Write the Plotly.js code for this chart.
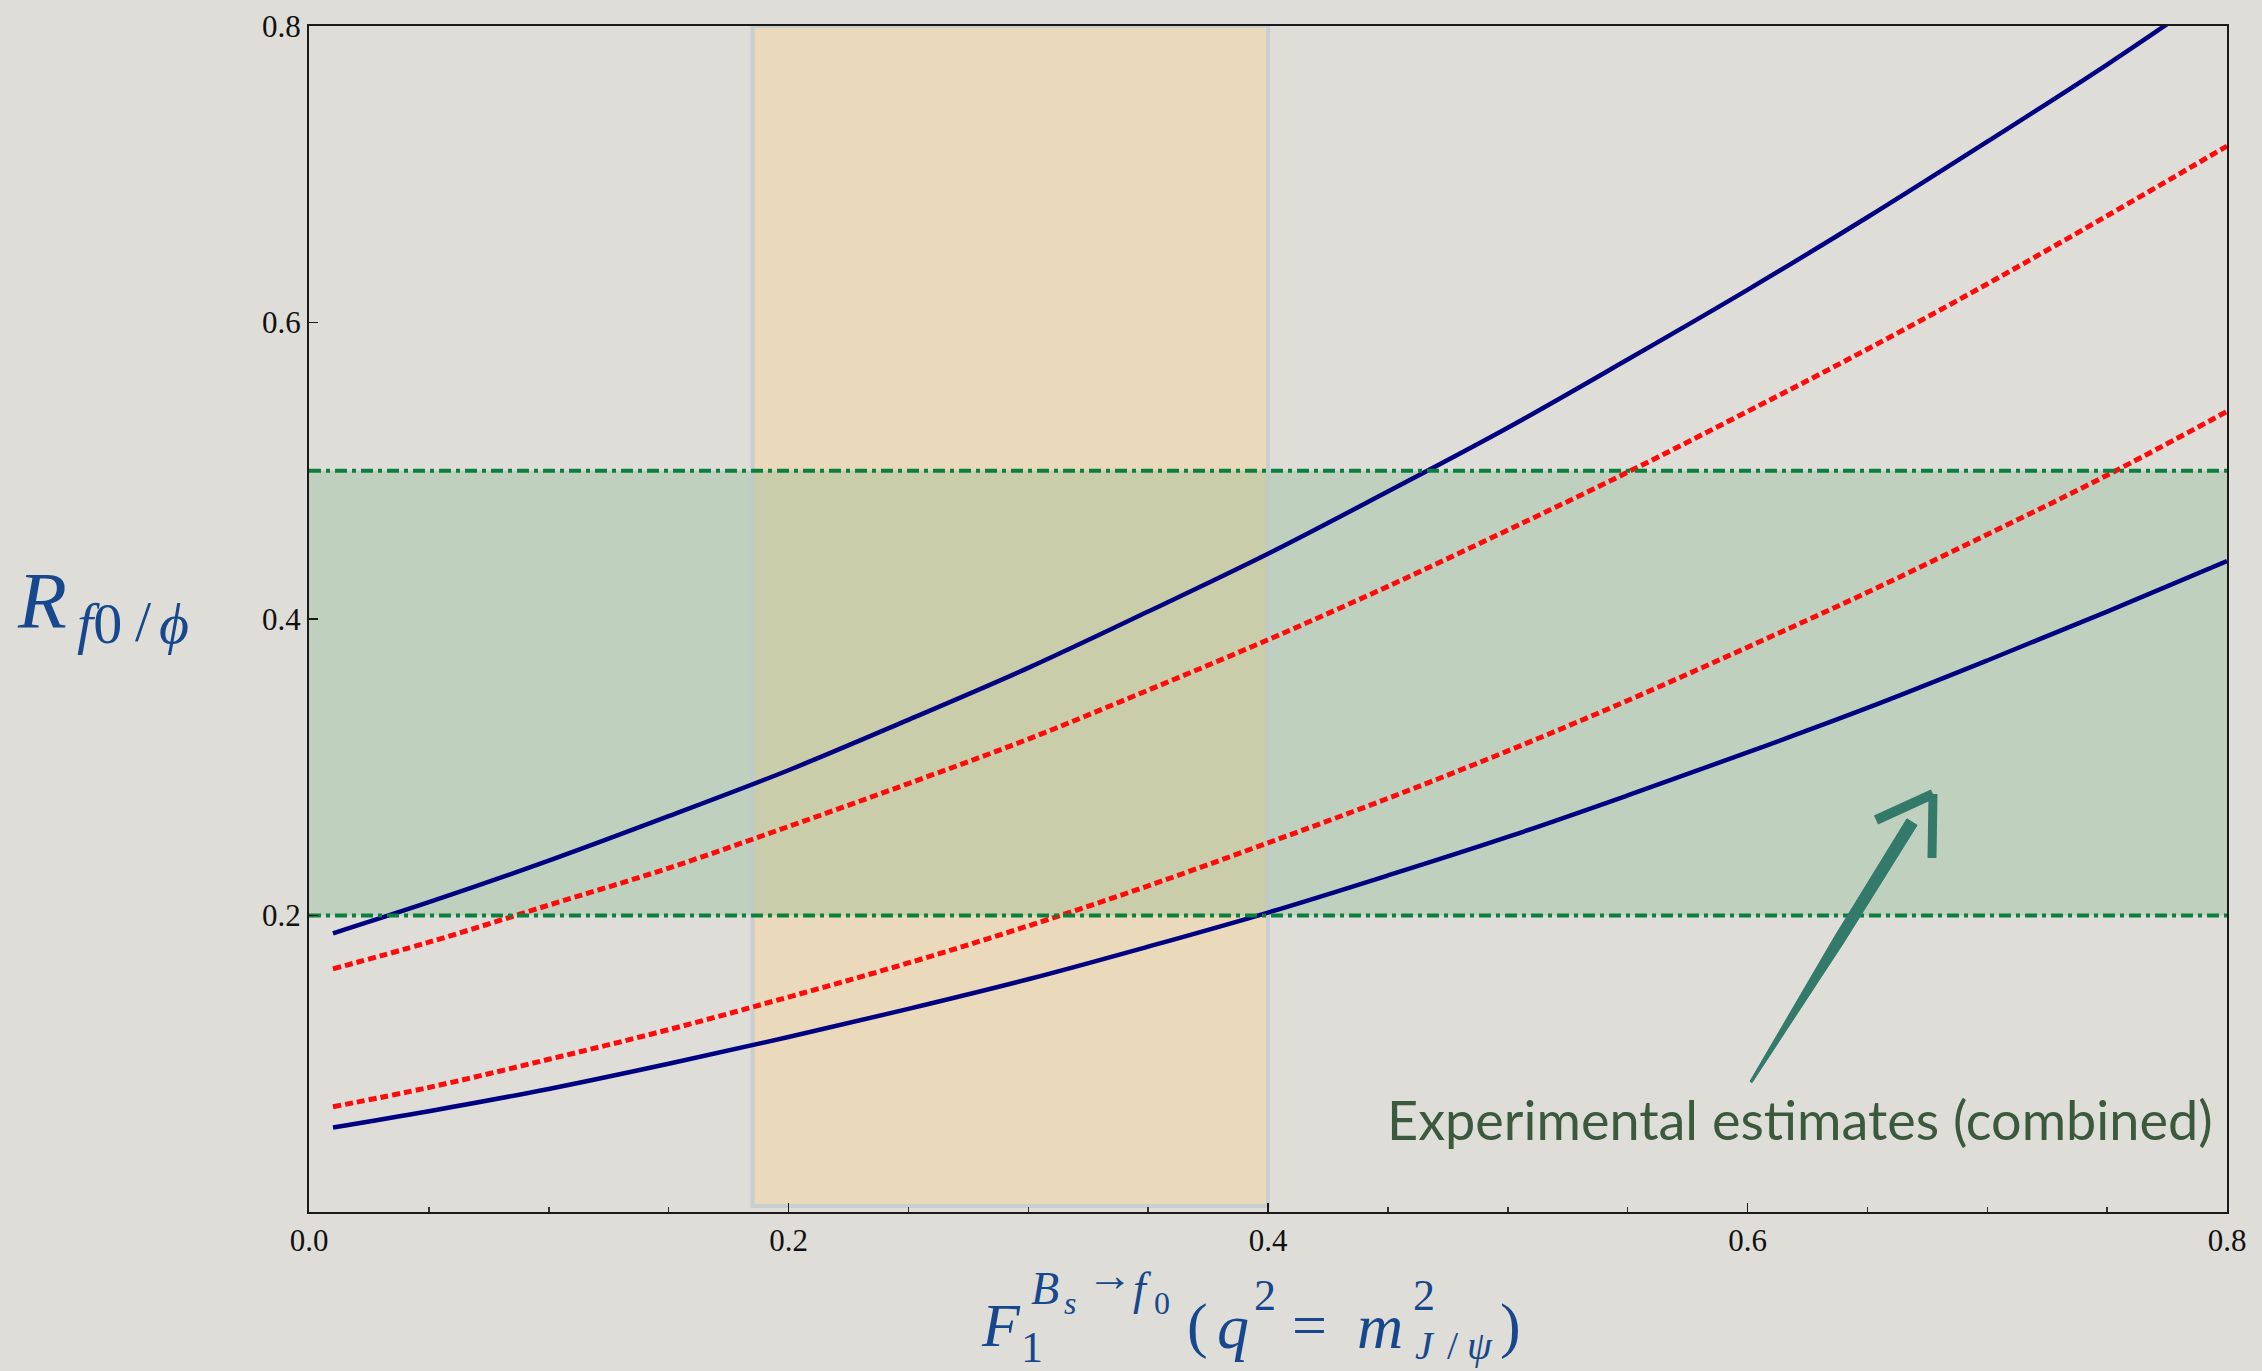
<!DOCTYPE html>
<html>
<head>
<meta charset="utf-8">
<script src="https://cdn.plot.ly/plotly-3.0.1.min.js"></script>
<style>
  html, body { margin: 0; padding: 0; background: #dfddd8; }
  #chart { width: 2262px; height: 1371px; }
</style>
</head>
<body>
<div id="chart"></div>
<script>
// ---- data ----
const formFactor = [0.01, 0.05, 0.10, 0.15, 0.20, 0.25, 0.30, 0.35, 0.40, 0.45, 0.50, 0.55, 0.60, 0.65, 0.70, 0.75, 0.80];
const upperSolid  = [0.188, 0.209, 0.237, 0.267, 0.298, 0.332, 0.367, 0.405, 0.444, 0.486, 0.529, 0.575, 0.622, 0.671, 0.722, 0.774, 0.829];
const upperDotted = [0.164, 0.182, 0.207, 0.232, 0.260, 0.289, 0.319, 0.352, 0.386, 0.422, 0.460, 0.499, 0.540, 0.582, 0.626, 0.672, 0.719];
const lowerDotted = [0.071, 0.084, 0.103, 0.123, 0.145, 0.168, 0.193, 0.220, 0.249, 0.279, 0.311, 0.345, 0.381, 0.418, 0.457, 0.497, 0.540];
const lowerSolid  = [0.057, 0.068, 0.083, 0.100, 0.118, 0.137, 0.157, 0.179, 0.202, 0.227, 0.253, 0.281, 0.310, 0.340, 0.372, 0.405, 0.439];

const expBand = [0.2, 0.5];          // experimental estimates (combined), R range
const ffBand  = [0.185, 0.4];        // form factor band, F range
const xRange  = [0, 0.8];
const yRange  = [0, 0.8];
const xTickVals = [0.0, 0.2, 0.4, 0.6, 0.8];
const xTickText = ['0.0', '0.2', '0.4', '0.6', '0.8'];
const yTickVals = [0.2, 0.4, 0.6, 0.8];
const yTickText = ['0.2', '0.4', '0.6', '0.8'];
const annotationText = 'Experimental estimates (combined)';

// ---- layout geometry ----
const W = 2262, H = 1371;
const M = { l: 309, r: 35, t: 26, b: 159 };
const plotW = W - M.l - M.r, plotH = H - M.t - M.b;
const px2paperX = px => (px - M.l) / plotW;
const px2paperY = py => (H - M.b - py) / plotH;
const px2x = px => xRange[0] + (px - M.l) / plotW * (xRange[1] - xRange[0]);
const px2y = py => yRange[0] + (H - M.b - py) / plotH * (yRange[1] - yRange[0]);

const BLUE_TXT = '#17488e';
const SERIF = 'Liberation Serif, Times New Roman, serif';

const traces = [
  { x: formFactor, y: upperSolid, mode: 'lines', line: { color: '#000080', width: 4.5, shape: 'spline' }, hoverinfo: 'skip' },
  { x: formFactor, y: lowerSolid, mode: 'lines', line: { color: '#000080', width: 4.5, shape: 'spline' }, hoverinfo: 'skip' },
  { x: formFactor, y: upperDotted, mode: 'lines', line: { color: '#ff0a0a', width: 5, dash: '8px,4px', shape: 'spline' }, hoverinfo: 'skip' },
  { x: formFactor, y: lowerDotted, mode: 'lines', line: { color: '#ff0a0a', width: 5, dash: '8px,4px', shape: 'spline' }, hoverinfo: 'skip' },
  { x: xRange, y: [expBand[0], expBand[0]], mode: 'lines', line: { color: '#0b7f3e', width: 4, dash: '12px,5px,4px,5px' }, hoverinfo: 'skip' },
  { x: xRange, y: [expBand[1], expBand[1]], mode: 'lines', line: { color: '#0b7f3e', width: 4, dash: '12px,5px,4px,5px' }, hoverinfo: 'skip' }
];

// arrow geometry (hand-drawn style), in pixels of the reference
const tail = [1751, 1082], shaftTop = [1912, 822];
const ux = shaftTop[0] - tail[0], uy = shaftTop[1] - tail[1];
const ul = Math.hypot(ux, uy);
const nx = -uy / ul, ny = ux / ul;
const w0 = 1.2, wm = 5.5, w1 = 6;
const mid = [tail[0] + ux * 0.55, tail[1] + uy * 0.55];
const poly = [
  [tail[0] + nx * w0, tail[1] + ny * w0],
  [mid[0] + nx * wm, mid[1] + ny * wm],
  [shaftTop[0] + nx * w1, shaftTop[1] + ny * w1],
  [shaftTop[0] - nx * w1, shaftTop[1] - ny * w1],
  [mid[0] - nx * wm, mid[1] - ny * wm],
  [tail[0] - nx * w0, tail[1] - ny * w0]
];
const polyPath = 'M ' + poly.map(p => px2x(p[0]).toFixed(5) + ',' + px2y(p[1]).toFixed(5)).join(' L ') + ' Z';
const ARROW = '#337a6b';
const tip = [1933, 794], armL = [1876, 820], armR = [1932, 858];

const shapes = [
  // form-factor band (vertical)
  { type: 'rect', layer: 'below', xref: 'x', yref: 'y', x0: ffBand[0], x1: ffBand[1], y0: yRange[0] + 0.004, y1: yRange[1],
    fillcolor: '#eadabb', line: { color: '#c9ced0', width: 4 } },
  // experimental band (horizontal)
  { type: 'rect', layer: 'below', xref: 'x', yref: 'y', x0: xRange[0], x1: xRange[1], y0: expBand[0], y1: expBand[1],
    fillcolor: '#bfd1be', line: { width: 0 } },
  // overlap of the two bands
  { type: 'rect', layer: 'below', xref: 'x', yref: 'y', x0: ffBand[0], x1: ffBand[1], y0: expBand[0], y1: expBand[1],
    fillcolor: '#cacda9', line: { width: 0 } },
  { type: 'line', layer: 'below', xref: 'x', yref: 'y', x0: ffBand[0], x1: ffBand[0], y0: expBand[0], y1: expBand[1], line: { color: '#c0cac6', width: 4 } },
  { type: 'line', layer: 'below', xref: 'x', yref: 'y', x0: ffBand[1], x1: ffBand[1], y0: expBand[0], y1: expBand[1], line: { color: '#c0cac6', width: 4 } },
  // arrow shaft
  { type: 'path', layer: 'above', xref: 'x', yref: 'y', path: polyPath, fillcolor: ARROW, line: { color: ARROW, width: 1 } },
  // arrow head arms
  { type: 'line', layer: 'above', xref: 'x', yref: 'y', x0: px2x(armL[0]), y0: px2y(armL[1]), x1: px2x(tip[0]), y1: px2y(tip[1]), line: { color: ARROW, width: 10 } },
  { type: 'line', layer: 'above', xref: 'x', yref: 'y', x0: px2x(tip[0]), y0: px2y(tip[1]), x1: px2x(armR[0]), y1: px2y(armR[1]), line: { color: ARROW, width: 9 } }
];

function ann(text, pxL, pyTop, size, extra) {
  return Object.assign({
    text: text, xref: 'paper', yref: 'paper', x: px2paperX(pxL), y: px2paperY(pyTop),
    xanchor: 'left', yanchor: 'top', showarrow: false, borderpad: 0,
    font: { family: SERIF, size: size, color: BLUE_TXT }
  }, extra || {});
}

const annotations = [
  // y-axis title  R_{f0/phi}
  ann('<i>R</i>', 16, 556, 80),
  ann('<i>f</i>0', 76, 590, 58),
  ann('/', 134, 588, 58),
  ann('<i>ϕ</i>', 158, 590, 58),
  // x-axis title  F_1^{Bs->f0}(q^2 = m^2_{J/psi})
  ann('<i>F</i>', 980, 1290, 62),
  ann('1', 1020, 1322, 44),
  ann('<i>B</i>', 1030, 1262, 46),
  ann('<i>s</i>', 1063, 1284, 32),
  ann('→', 1086, 1249, 46),
  ann('<i>f</i>', 1132, 1262, 46),
  ann('0', 1153, 1284, 32),
  ann('(', 1186, 1290, 62),
  ann('<i>q</i>', 1216, 1290, 64),
  ann('2', 1253, 1270, 44),
  ann('=', 1291, 1290, 62),
  ann('<i>m</i>', 1356, 1290, 64),
  ann('2', 1412, 1270, 44),
  ann('<i>J</i>', 1414, 1322, 40),
  ann('/', 1446, 1322, 40),
  ann('<i>ψ</i>', 1466, 1322, 40),
  ann(')', 1499, 1290, 62),
  // experimental annotation
  { text: annotationText, xref: 'paper', yref: 'paper', x: px2paperX(2214), y: px2paperY(1086),
    xanchor: 'right', yanchor: 'top', showarrow: false, borderpad: 0,
    font: { family: 'Lato, Open Sans, sans-serif', size: 54, color: '#3b5a3d' } }
];

const layout = {
  width: W, height: H,
  margin: M,
  paper_bgcolor: '#dfddd8',
  plot_bgcolor: 'rgba(0,0,0,0)',
  showlegend: false,
  xaxis: {
    range: xRange, showgrid: false, zeroline: false,
    showline: true, linecolor: '#1a1a1a', linewidth: 2, mirror: true,
    ticks: 'inside', ticklen: 9, tickwidth: 1.5, tickcolor: '#1a1a1a',
    tickvals: xTickVals, ticktext: xTickText,
    minor: { dtick: 0.05, ticks: 'inside', ticklen: 5, tickwidth: 1.5, tickcolor: '#333' },
    tickfont: { family: SERIF, size: 31, color: '#111' }
  },
  yaxis: {
    range: yRange, showgrid: false, zeroline: false,
    showline: true, linecolor: '#1a1a1a', linewidth: 2, mirror: true,
    ticks: 'inside', ticklen: 9, tickwidth: 1.5, tickcolor: '#1a1a1a',
    tickvals: yTickVals, ticktext: yTickText,
    tickfont: { family: SERIF, size: 31, color: '#111' }
  },
  shapes: shapes,
  annotations: annotations
};

Plotly.newPlot('chart', traces, layout, { staticPlot: true, displayModeBar: false });
</script>
</body>
</html>
